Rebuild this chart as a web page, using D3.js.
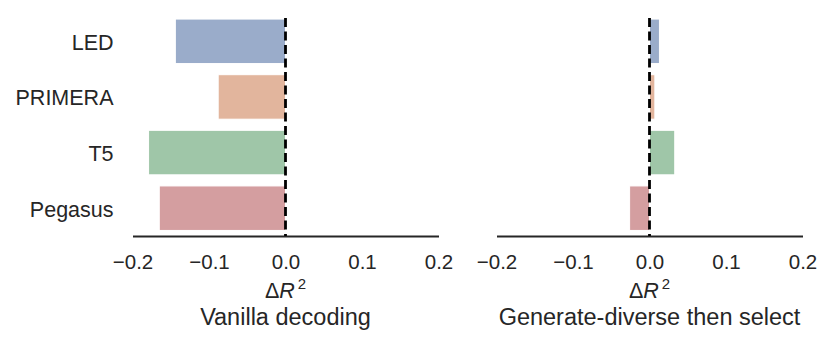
<!DOCTYPE html>
<html>
<head>
<meta charset="utf-8">
<script src="https://cdn.jsdelivr.net/npm/d3@7"></script>
<style>
  body { margin: 0; background: #fff; }
  text { font-family: "Liberation Sans", Arial, sans-serif; fill: #262626; }
</style>
</head>
<body>
<div id="chart-area"></div>
<script>
// data
var models = ['LED', 'PRIMERA', 'T5', 'Pegasus'];
var vanilla = [-0.144, -0.088, -0.179, -0.165];
var diverse = [0.013, 0.007, 0.033, -0.026];
var tickVals = [-0.2, -0.1, 0.0, 0.1, 0.2];
var panelTitles = ['Vanilla decoding', 'Generate-diverse then select'];
var colors = ['#9aacca', '#e2b59d', '#9fc6a8', '#d49ea0'];

var svgWidth = 831, svgHeight = 345;

var svg = d3.select('#chart-area')
  .append('svg')
  .attr('width', svgWidth)
  .attr('height', svgHeight);

var yScale = d3.scaleBand()
  .domain(models)
  .range([13.5, 236])
  .paddingInner(0.2)
  .paddingOuter(0.1);

var panels = [
  { left: 132.5, right: 438.5, values: vanilla, title: panelTitles[0], labels: true },
  { left: 496.5, right: 802.5, values: diverse, title: panelTitles[1], labels: false }
];

panels.forEach(function(p) {
  var x = d3.scaleLinear().domain([-0.2, 0.2]).range([p.left, p.right]);
  var g = svg.append('g');

  // bars
  g.selectAll('rect')
    .data(p.values)
    .enter()
    .append('rect')
    .attr('x', function(d) { return Math.min(x(d), x(0)); })
    .attr('y', function(d, i) { return yScale(models[i]); })
    .attr('width', function(d) { return Math.abs(x(d) - x(0)); })
    .attr('height', yScale.bandwidth())
    .attr('fill', function(d, i) { return colors[i]; })
    .attr('stroke', '#fff')
    .attr('stroke-width', 1);

  // x axis
  var xAxis = d3.axisBottom(x)
    .tickValues(tickVals)
    .tickFormat(d3.format('.1f'))
    .tickSize(0)
    .tickPadding(18);

  var ax = g.append('g')
    .attr('transform', 'translate(0,236)')
    .call(xAxis);
  ax.select('.domain').attr('stroke', '#262626').attr('stroke-width', 2.2);
  ax.selectAll('text')
    .attr('font-size', 20.5)
    .attr('fill', '#262626')
    .attr('font-family', '"Liberation Sans", Arial, sans-serif');

  // zero line
  g.append('line')
    .attr('x1', x(0)).attr('x2', x(0))
    .attr('y1', 18).attr('y2', 236)
    .attr('stroke', '#000')
    .attr('stroke-width', 2.8)
    .attr('stroke-dasharray', '9,4.5');

  // x label  ΔR^2
  var lab = g.append('text')
    .attr('x', x(0))
    .attr('y', 298)
    .attr('text-anchor', 'middle')
    .attr('font-size', 21.5);
  lab.append('tspan').text('Δ');
  lab.append('tspan').attr('font-style', 'italic').text('R');
  lab.append('tspan').attr('font-size', 15).attr('dx', 3).attr('dy', -9).text('2');

  g.append('text')
    .attr('x', x(0))
    .attr('y', 325)
    .attr('text-anchor', 'middle')
    .attr('font-size', 23.5)
    .text(p.title);

  // y labels
  if (p.labels) {
    g.selectAll('.ylab')
      .data(models)
      .enter()
      .append('text')
      .attr('class', 'ylab')
      .attr('x', 113.5)
      .attr('y', function(d) { return yScale(d) + yScale.bandwidth() / 2 + 8.5; })
      .attr('text-anchor', 'end')
      .attr('font-size', 21.5)
      .text(function(d) { return d; });
  }
});
</script>
</body>
</html>
